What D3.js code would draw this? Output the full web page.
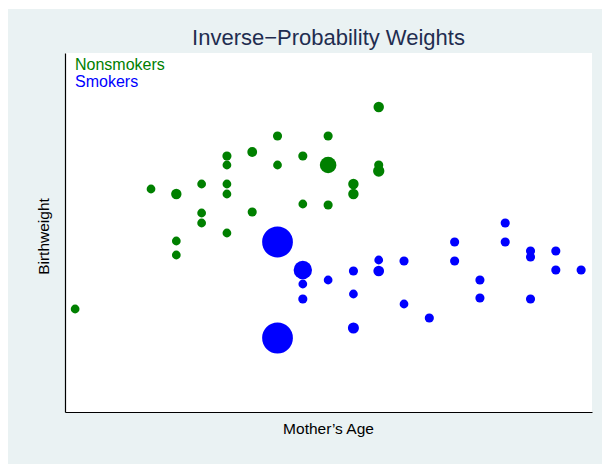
<!DOCTYPE html>
<html>
<head>
<meta charset="utf-8">
<script src="https://cdn.jsdelivr.net/npm/d3@7"></script>
<style>
  html, body { margin: 0; padding: 0; background: #ffffff; }
  svg { display: block; font-family: "Liberation Sans", Arial, Helvetica, sans-serif; }
</style>
</head>
<body>
<svg id="chart" width="602" height="464"></svg>
<script>
// ---- data (mother's age in years, birthweight in grams, inverse-probability weight) ----
const nonsmokerAge = [15, 18, 19, 19, 19, 20, 20, 20, 21, 21, 21, 21, 21, 22, 22, 23, 23, 24, 24, 25, 25, 25, 26, 26, 27, 27, 27];
const nonsmokerBwt = [2530, 3730, 3680, 3210, 3070, 3780, 3490, 3390, 4060, 3970, 3780, 3680, 3290, 4100, 3500, 4260, 3970, 4060, 3580, 4260, 3970, 3570, 3780, 3680, 4550, 3970, 3910];
const nonsmokerW   = [1.2, 1.2, 1.7, 1.2, 1.2, 1.2, 1.2, 1.2, 1.3, 1.2, 1.2, 1.2, 1.2, 1.5, 1.3, 1.3, 1.2, 1.3, 1.2, 1.3, 4.3, 1.3, 1.7, 1.7, 1.7, 1.3, 2.0];

const smokerAge = [23, 23, 24, 24, 24, 25, 26, 26, 26, 27, 27, 28, 28, 29, 30, 30, 31, 31, 32, 32, 33, 33, 33, 34, 34, 35];
const smokerBwt = [3200, 2240, 2920, 2780, 2630, 2820, 2910, 2680, 2340, 3020, 2910, 3010, 2580, 2440, 3200, 3010, 2820, 2640, 3390, 3200, 3110, 3050, 2630, 3110, 2920, 2920];
const smokerW   = [14.8, 14.8, 5.3, 1.2, 1.3, 1.2, 1.3, 1.2, 1.9, 1.2, 1.8, 1.3, 1.2, 1.3, 1.3, 1.3, 1.3, 1.3, 1.3, 1.3, 1.3, 1.3, 1.3, 1.3, 1.3, 1.3];

const titleText = "Inverse\u2212Probability Weights";
const xLabel = "Mother\u2019s Age";
const yLabel = "Birthweight";
const legendLabels = ["Nonsmokers", "Smokers"];

// ---- layout ----
const W = 602, H = 464;
const plot = { left: 65, right: 592, top: 53, bottom: 412 };
const colors = { green: "#008000", blue: "#0000ff", bg: "#eaf2f3", title: "#1f2d50" };

const svg = d3.select("#chart");

svg.append("rect").attr("x", 8).attr("y", 9).attr("width", W - 8).attr("height", H - 9).attr("fill", colors.bg);
svg.append("rect").attr("x", plot.left).attr("y", plot.top)
  .attr("width", plot.right - plot.left).attr("height", plot.bottom - plot.top).attr("fill", "#ffffff");

const x = d3.scaleLinear().domain([14.6, 35.43]).range([plot.left, plot.right]);
const y = d3.scaleLinear().domain([1500, 5090]).range([plot.bottom, plot.top]);
const r = d3.scaleSqrt().domain([0, 1]).range([0, 4.0]);

function series(ages, bwts, ws) {
  return ages.map((a, i) => ({ age: a, bwt: bwts[i], w: ws[i] }));
}
const groups = [
  { data: series(nonsmokerAge, nonsmokerBwt, nonsmokerW), color: colors.green },
  { data: series(smokerAge, smokerBwt, smokerW), color: colors.blue }
];

groups.forEach(g => {
  svg.append("g").selectAll("circle").data(g.data).join("circle")
    .attr("cx", d => x(d.age))
    .attr("cy", d => y(d.bwt))
    .attr("r", d => r(d.w))
    .attr("fill", g.color);
});

// axes (lines only, no ticks or labels)
const xAxis = d3.axisBottom(x).tickValues([]).tickSizeOuter(0);
const yAxis = d3.axisLeft(y).tickValues([]).tickSizeOuter(0);
svg.append("g").attr("transform", `translate(0,${plot.bottom})`).call(xAxis)
  .select(".domain").attr("stroke", "#000").attr("stroke-width", 1.2);
svg.append("g").attr("transform", `translate(${plot.left},0)`).call(yAxis)
  .select(".domain").attr("stroke", "#000").attr("stroke-width", 1.2);

// title
svg.append("text").attr("x", (plot.left + plot.right) / 2).attr("y", 45)
  .attr("text-anchor", "middle").attr("font-size", 22).attr("fill", colors.title)
  .text(titleText);

// axis titles
svg.append("text").attr("x", (plot.left + plot.right) / 2).attr("y", 434)
  .attr("text-anchor", "middle").attr("font-size", 15.5).attr("fill", "#000")
  .text(xLabel);
svg.append("text").attr("transform", `translate(49,${(plot.top + plot.bottom) / 2 + 4}) rotate(-90)`)
  .attr("text-anchor", "middle").attr("font-size", 15.5).attr("fill", "#000")
  .text(yLabel);

// legend text
svg.append("text").attr("x", 75).attr("y", 70).attr("font-size", 16).attr("fill", colors.green).text(legendLabels[0]);
svg.append("text").attr("x", 75).attr("y", 86.5).attr("font-size", 16).attr("fill", colors.blue).text(legendLabels[1]);
</script>
</body>
</html>
